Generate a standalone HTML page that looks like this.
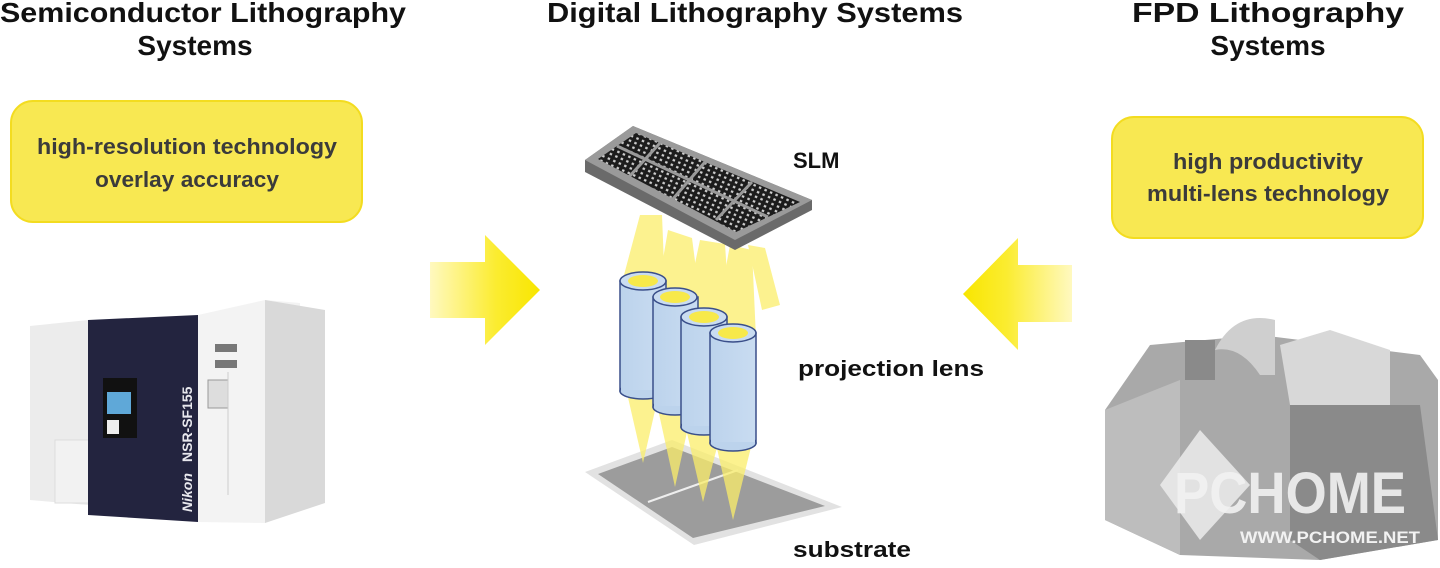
<!DOCTYPE html>
<html><head><meta charset="utf-8"><style>
html,body{margin:0;padding:0;background:#fff;width:1440px;height:568px;overflow:hidden}
svg{display:block}
</style></head><body>
<svg width="1440" height="568" viewBox="0 0 1440 568" xmlns="http://www.w3.org/2000/svg" font-family="Liberation Sans, sans-serif">
<defs>
<linearGradient id="ga" x1="0" x2="1" y1="0" y2="0"><stop offset="0" stop-color="#fff9c0"/><stop offset="0.6" stop-color="#fbec30"/><stop offset="1" stop-color="#f8e600"/></linearGradient>
<linearGradient id="gb" x1="1" x2="0" y1="0" y2="0"><stop offset="0" stop-color="#fff9c0"/><stop offset="0.6" stop-color="#fbec30"/><stop offset="1" stop-color="#f8e600"/></linearGradient>
<linearGradient id="gcyl" x1="0" x2="1"><stop offset="0" stop-color="#bcd3ec"/><stop offset="1" stop-color="#c9dcf1"/></linearGradient>
<pattern id="grid" width="6" height="5" patternUnits="userSpaceOnUse" patternTransform="rotate(24)"><rect width="6" height="5" fill="#1c1c1c"/><rect x="1.5" y="1.2" width="2.5" height="2.2" fill="#cfcfcf"/></pattern>
</defs>

<!-- titles -->
<g fill="#111" font-weight="bold" font-size="28" text-anchor="middle">
<text x="203" y="22" textLength="406" lengthAdjust="spacingAndGlyphs">Semiconductor Lithography</text>
<text x="195" y="55">Systems</text>
<text x="755" y="22" textLength="416" lengthAdjust="spacingAndGlyphs">Digital Lithography Systems</text>
<text x="1268" y="22" textLength="272" lengthAdjust="spacingAndGlyphs">FPD Lithography</text>
<text x="1268" y="55">Systems</text>
</g>

<!-- yellow boxes -->
<rect x="11" y="101" width="351" height="121" rx="22" fill="#f8e852" stroke="#f3dc20" stroke-width="2"/>
<rect x="1112" y="117" width="311" height="121" rx="22" fill="#f8e852" stroke="#f3dc20" stroke-width="2"/>
<g fill="#3b3b3b" font-weight="bold" font-size="22" text-anchor="middle">
<text x="187" y="154" textLength="300" lengthAdjust="spacingAndGlyphs">high-resolution technology</text>
<text x="187" y="187" textLength="184" lengthAdjust="spacingAndGlyphs">overlay accuracy</text>
<text x="1268" y="169" textLength="190" lengthAdjust="spacingAndGlyphs">high productivity</text>
<text x="1268" y="201" textLength="242" lengthAdjust="spacingAndGlyphs">multi-lens technology</text>
</g>

<!-- arrows -->
<polygon points="430,262 485,262 485,235 540,290 485,345 485,318 430,318" fill="url(#ga)"/>
<polygon points="1072,265 1018,265 1018,238 963,294 1018,350 1018,322 1072,322" fill="url(#gb)"/>

<!-- labels -->
<g fill="#111" font-weight="bold" font-size="22">
<text x="793" y="168">SLM</text>
<text x="798" y="376" textLength="186" lengthAdjust="spacingAndGlyphs">projection lens</text>
<text x="793" y="557" textLength="118" lengthAdjust="spacingAndGlyphs">substrate</text>
</g>

<!-- substrate -->
<polygon points="585,472 672,440 842,507 694,545" fill="#e2e2e2"/>
<polygon points="598,474 672,447 825,506 693,538" fill="#9c9c9c"/>
<line x1="648" y1="502" x2="738" y2="470" stroke="#eee" stroke-width="2"/>

<!-- beams -->
<g fill="#fbee6a" opacity="0.75">
<polygon points="640,215 662,215 665,290 620,290"/>
<polygon points="668,230 692,238 700,300 656,300"/>
<polygon points="700,240 725,244 730,320 683,320"/>
<polygon points="730,245 752,250 756,338 713,338"/>
<polygon points="748,245 765,248 780,305 762,310"/>
<polygon points="624,380 662,380 643,463"/>
<polygon points="656,400 694,400 675,487"/>
<polygon points="684,420 724,420 703,502"/>
<polygon points="714,435 754,435 733,520"/>
</g>

<!-- SLM -->
<polygon points="585,160 633,126 812,200 812,210 735,250 585,172" fill="#6a6a6a"/>
<polygon points="585,160 633,126 812,200 735,240" fill="#9a9a9a"/>
<polygon points="598,159 636,133 800,202 736,232" fill="url(#grid)"/>
<g stroke="#9a9a9a" stroke-width="3"><line x1="617" y1="146" x2="768" y2="217"/><line x1="660" y1="143" x2="628" y2="178"/><line x1="705" y1="162" x2="672" y2="200"/><line x1="752" y1="182" x2="716" y2="220"/></g>

<!-- cylinders -->
<g stroke="#3a4f8a" stroke-width="1.5">
<g><rect x="620" y="281" width="46" height="110" fill="url(#gcyl)"/><ellipse cx="643" cy="391" rx="23" ry="8" fill="#bcd3ec"/><rect x="621" y="282" width="44" height="108" fill="url(#gcyl)" stroke="none"/><ellipse cx="643" cy="281" rx="23" ry="9" fill="#c9dcf1"/><ellipse cx="643" cy="281" rx="15" ry="6" fill="#f7e94a" stroke="none"/></g>
<g><rect x="653" y="297" width="45" height="110" fill="url(#gcyl)"/><ellipse cx="675" cy="407" rx="22" ry="8" fill="#bcd3ec"/><rect x="654" y="298" width="43" height="108" fill="url(#gcyl)" stroke="none"/><ellipse cx="675" cy="297" rx="22" ry="9" fill="#c9dcf1"/><ellipse cx="675" cy="297" rx="15" ry="6" fill="#f7e94a" stroke="none"/></g>
<g><rect x="681" y="317" width="46" height="110" fill="url(#gcyl)"/><ellipse cx="704" cy="427" rx="23" ry="8" fill="#bcd3ec"/><rect x="682" y="318" width="44" height="108" fill="url(#gcyl)" stroke="none"/><ellipse cx="704" cy="317" rx="23" ry="9" fill="#c9dcf1"/><ellipse cx="704" cy="317" rx="15" ry="6" fill="#f7e94a" stroke="none"/></g>
<g><rect x="710" y="333" width="46" height="110" fill="url(#gcyl)"/><ellipse cx="733" cy="443" rx="23" ry="8" fill="#bcd3ec"/><rect x="711" y="334" width="44" height="108" fill="url(#gcyl)" stroke="none"/><ellipse cx="733" cy="333" rx="23" ry="9" fill="#c9dcf1"/><ellipse cx="733" cy="333" rx="15" ry="6" fill="#f7e94a" stroke="none"/></g>
</g>

<!-- left machine -->
<polygon points="30,326 88,320 88,505 30,500" fill="#ececec"/>
<rect x="55" y="440" width="35" height="63" fill="#f2f2f2" stroke="#ddd"/>
<polygon points="88,320 198,315 198,522 88,515" fill="#23243f"/>
<polygon points="198,315 265,300 300,303 300,510 265,523 198,522" fill="#f3f3f3"/>
<polygon points="265,300 325,310 325,503 265,523" fill="#d9d9d9"/>
<rect x="103" y="378" width="34" height="60" fill="#111"/>
<rect x="107" y="392" width="24" height="22" fill="#5fa8d8"/>
<rect x="107" y="420" width="12" height="14" fill="#eee"/>
<rect x="215" y="344" width="22" height="8" fill="#777"/><rect x="215" y="360" width="22" height="8" fill="#777"/>
<rect x="208" y="380" width="20" height="28" fill="#ddd" stroke="#999"/>
<line x1="228" y1="372" x2="228" y2="495" stroke="#ccc"/>
<text transform="translate(192,462) rotate(-90)" fill="#e8e8ee" font-weight="bold" font-size="14">NSR-SF155</text>
<text transform="translate(192,512) rotate(-90)" fill="#e8e8ee" font-weight="bold" font-style="italic" font-size="14">Nikon</text>

<!-- right machine -->
<polygon points="1105,410 1150,345 1260,335 1340,345 1420,355 1438,380 1438,540 1320,560 1180,555 1105,520" fill="#a9a9a9"/>
<polygon points="1105,410 1180,380 1180,555 1105,520" fill="#bdbdbd"/>
<polygon points="1290,405 1420,405 1438,540 1320,560 1290,540" fill="#8a8a8a"/>
<polygon points="1280,345 1330,330 1390,350 1390,405 1290,405" fill="#d8d8d8"/>
<path d="M1215,350 q20,-40 60,-30 l0,55 l-15,0 q-20,-30 -45,-25z" fill="#cfcfcf"/>
<rect x="1185" y="340" width="30" height="40" fill="#8a8a8a"/>
<polygon points="1160,485 1200,430 1250,485 1200,540" fill="#ececec" opacity="0.85"/>
<text x="1290" y="513" text-anchor="middle" font-weight="bold" font-size="58" fill="#f2f2f2" opacity="0.9" textLength="232" lengthAdjust="spacingAndGlyphs">PCHOME</text>
<text x="1330" y="543" text-anchor="middle" font-weight="bold" font-size="17" fill="#f2f2f2" textLength="180" lengthAdjust="spacingAndGlyphs">WWW.PCHOME.NET</text>
</svg>
</body></html>
